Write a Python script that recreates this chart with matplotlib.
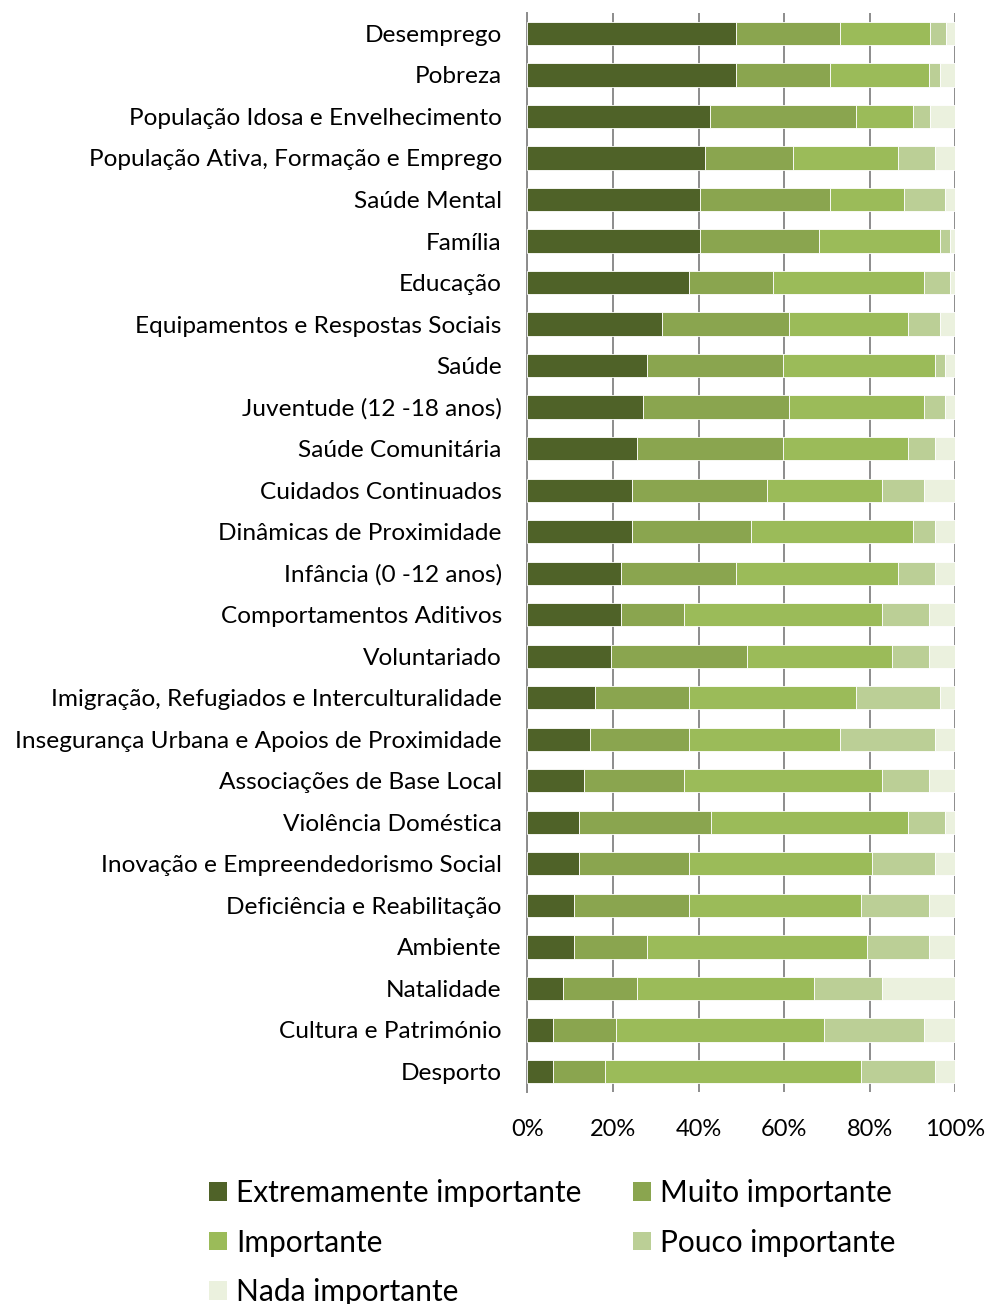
import matplotlib
matplotlib.use("Agg")
import matplotlib.pyplot as plt
from matplotlib.patches import Patch
import numpy as np

plt.rcParams['font.family'] = ['Lato', 'DejaVu Sans']

# temas avaliados, de cima para baixo
temas = [
    "Desemprego", "Pobreza", "População Idosa e Envelhecimento",
    "População Ativa, Formação e Emprego", "Saúde Mental", "Família",
    "Educação", "Equipamentos e Respostas Sociais", "Saúde",
    "Juventude (12 -18 anos)", "Saúde Comunitária", "Cuidados Continuados",
    "Dinâmicas de Proximidade", "Infância (0 -12 anos)",
    "Comportamentos Aditivos", "Voluntariado",
    "Imigração, Refugiados e Interculturalidade",
    "Insegurança Urbana e Apoios de Proximidade",
    "Associações de Base Local", "Violência Doméstica",
    "Inovação e Empreendedorismo Social", "Deficiência e Reabilitação",
    "Ambiente", "Natalidade", "Cultura e Património", "Desporto",
]

# percentagens por nível de importância
extremamente = [48.8, 48.8, 42.7, 41.5, 40.3, 40.3, 37.8, 31.5, 28.0, 26.9,
                25.7, 24.5, 24.5, 21.9, 21.9, 19.5, 15.7, 14.5, 13.2, 12.1,
                12.1, 10.9, 10.9, 8.3, 6.0, 6.0]
muito = [24.3, 21.9, 34.1, 20.6, 30.4, 27.9, 19.5, 29.5, 31.7, 34.1,
         34.0, 31.5, 27.8, 26.9, 14.6, 31.7, 22.1, 23.3, 23.3, 30.7,
         25.7, 26.9, 17.1, 17.4, 14.7, 12.1]
importante = [20.9, 23.2, 13.4, 24.6, 17.2, 28.2, 35.4, 27.9, 35.5, 31.7,
              29.2, 26.9, 37.9, 37.9, 46.4, 34.0, 39.0, 35.3, 46.4, 46.1,
              42.7, 40.2, 51.4, 41.3, 48.6, 59.9]
pouco = [3.7, 2.5, 3.9, 8.5, 9.7, 2.4, 6.1, 7.5, 2.4, 4.9,
         6.3, 9.8, 5.0, 8.5, 11.0, 8.7, 19.6, 22.1, 11.0, 8.7,
         14.7, 15.9, 14.5, 15.9, 23.4, 17.2]
nada = [2.4, 3.6, 5.9, 4.8, 2.4, 1.2, 1.2, 3.6, 2.4, 2.4,
        4.8, 7.3, 4.8, 4.8, 6.1, 6.1, 3.6, 4.8, 6.1, 2.4,
        4.8, 6.1, 6.1, 17.1, 7.3, 4.8]

niveis = ["Extremamente importante", "Muito importante", "Importante",
          "Pouco importante", "Nada importante"]
cores = ["#4f6228", "#8aa54f", "#9bbb59", "#bbcf96", "#ebf1de"]
series = [extremamente, muito, importante, pouco, nada]

fig = plt.figure(figsize=(9.87, 13.04), dpi=100)
ax = fig.add_axes([0.5344, 0.1624, 0.4336, 0.8279])

y = np.arange(len(temas))
base = np.zeros(len(temas))
for valores, cor, nome in zip(series, cores, niveis):
    ax.barh(y, valores, left=base, height=0.56, color=cor, label=nome,
            edgecolor="white", linewidth=0.6, zorder=3)
    base += np.array(valores)

ax.set_ylim(len(temas) - 0.5, -0.5)
ax.set_xlim(0, 100)
ax.set_xticks(np.arange(0, 101, 20))
ax.set_xticklabels([f"{v}%" for v in range(0, 101, 20)], fontsize=17)
ax.set_yticks(y)
ax.set_yticklabels(temas, fontsize=17.6)
ax.tick_params(axis="y", length=0, pad=18.5)
ax.tick_params(axis="x", length=0, pad=19)
ax.grid(axis="x", color="#8c8c8c", linewidth=1.4, zorder=0)

for lado in ["top", "bottom", "right"]:
    ax.spines[lado].set_visible(False)
ax.spines["left"].set_color("#8c8c8c")
ax.spines["left"].set_linewidth(1.4)

# legenda em duas colunas, preenchida por linhas
ordem = [0, 2, 4, 1, 3]
alcas = [Patch(facecolor=cores[i], edgecolor="none") for i in ordem]
fig.legend(alcas, [niveis[i] for i in ordem], ncol=2, frameon=False,
           fontsize=21.5, loc="upper left", bbox_to_anchor=(0.1996, 0.105),
           handlelength=0.6, handleheight=0.6, handletextpad=0.3,
           columnspacing=1.75, labelspacing=0.72, borderaxespad=0)

fig.savefig("out.png", dpi=100)
